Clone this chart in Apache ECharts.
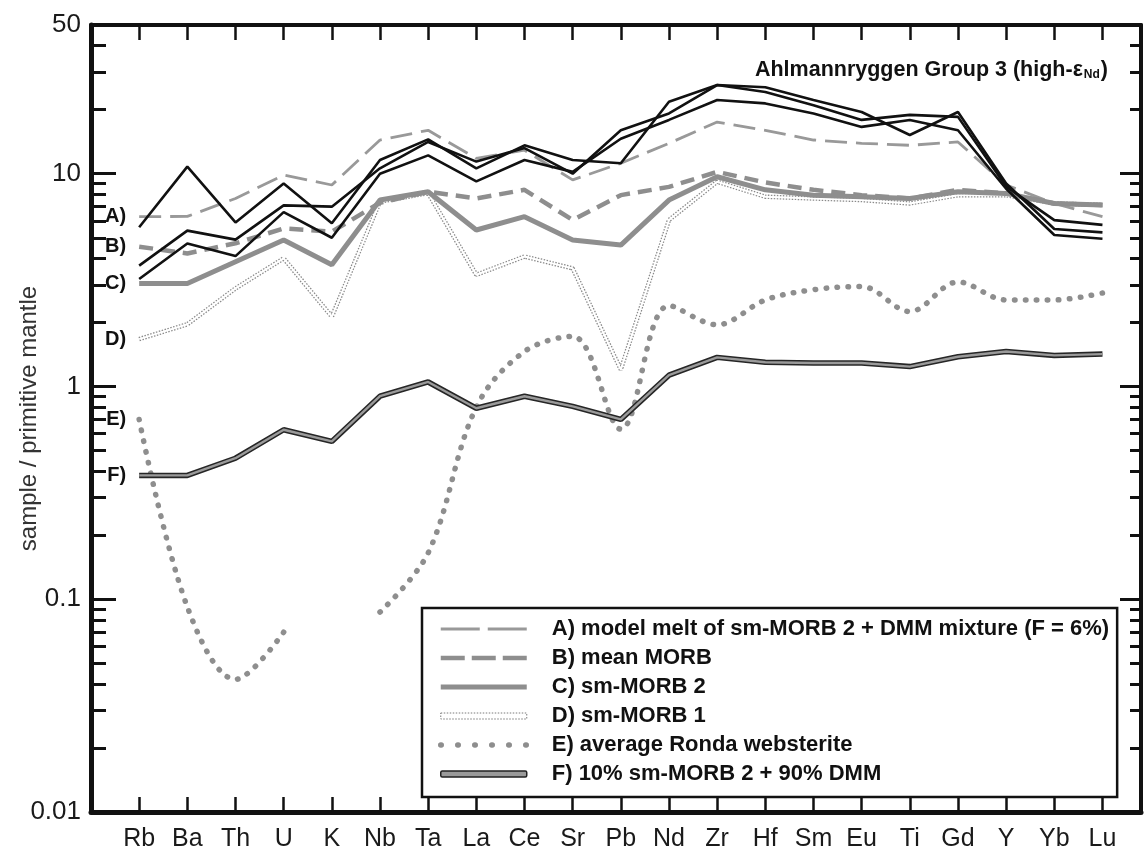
<!DOCTYPE html>
<html><head><meta charset="utf-8">
<script src="https://cdn.jsdelivr.net/npm/echarts@6/dist/echarts.min.js"></script>
<style>html,body{margin:0;padding:0;background:#fff}#c{width:1144px;height:856px}</style>
</head><body><div id="c"></div>
<script>
const FONT = "'Liberation Sans', Arial, Helvetica, sans-serif";
const elements = ['Rb','Ba','Th','U','K','Nb','Ta','La','Ce','Sr','Pb','Nd','Zr','Hf','Sm','Eu','Ti','Gd','Y','Yb','Lu'];

// three Ahlmannryggen Group 3 samples (black lines)
const sample1 = [5.6, 10.8, 5.9, 9.0, 5.85, 11.6, 14.5, 10.6, 13.6, 11.6, 11.2, 21.8, 26.1, 25.5, 22.2, 19.5, 15.2, 19.5, 9.0, 5.5, 5.3];
const sample2 = [3.7, 5.4, 4.9, 7.1, 7.0, 10.6, 14.1, 11.4, 13.2, 10.0, 16.0, 19.2, 26.1, 24.2, 21.0, 17.9, 18.9, 18.5, 8.7, 6.05, 5.75];
const sample3 = [3.2, 4.7, 4.1, 6.6, 5.0, 10.0, 12.2, 9.2, 11.6, 10.2, 14.6, 17.9, 22.2, 21.4, 19.2, 16.6, 17.9, 16.0, 8.5, 5.15, 4.95];

// reference compositions
const modelMelt   = [6.28, 6.3, 7.65, 9.86, 8.85, 14.4, 16.0, 11.8, 12.9, 9.35, 11.2, 13.9, 17.5, 16.0, 14.4, 13.9, 13.6, 14.1, 8.85, 7.25, 6.28];
const meanMORB    = [4.54, 4.22, 4.71, 5.53, 5.34, 7.3, 8.23, 7.65, 8.4, 6.06, 7.93, 8.67, 10.2, 9.1, 8.4, 7.93, 7.65, 8.4, 8.08, 7.25, 7.13];
const smMORB2     = [3.05, 3.05, 3.86, 4.88, 3.73, 7.52, 8.23, 5.44, 6.28, 4.88, 4.62, 7.52, 9.68, 8.4, 7.93, 7.8, 7.65, 8.23, 8.08, 7.25, 7.13];
const smMORB1     = [1.67, 1.96, 2.89, 4.0, 2.13, 7.4, 8.1, 3.35, 4.08, 3.59, 1.2, 6.06, 9.17, 7.8, 7.65, 7.52, 7.25, 7.93, 7.93, 7.25, 7.13];
const ronda       = [0.70, 0.092, 0.042, 0.070, null, 0.087, 0.165, 0.80, 1.46, 1.72, 0.63, 2.4, 1.95, 2.55, 2.85, 2.95, 2.25, 3.1, 2.55, 2.55, 2.75];
const mix10       = [0.382, 0.382, 0.46, 0.626, 0.552, 0.90, 1.05, 0.79, 0.90, 0.806, 0.70, 1.13, 1.37, 1.30, 1.29, 1.29, 1.24, 1.38, 1.46, 1.40, 1.42];

const legendNames = [
  'A) model melt of sm-MORB 2 + DMM mixture (F = 6%)',
  'B) mean MORB',
  'C) sm-MORB 2',
  'D) sm-MORB 1',
  'E) average Ronda websterite',
  'F) 10% sm-MORB 2 + 90% DMM'
];
const shortLabels = ['A)', 'B)', 'C)', 'D)', 'E)', 'F)'];

const yMajorTicks = [0.01, 0.1, 1, 10];
const yLabelValues = [0.01, 0.1, 1, 10, 50];
const yMinorTicks = [0.02,0.03,0.04,0.05,0.06,0.07,0.08,0.09,0.2,0.3,0.4,0.5,0.6,0.7,0.8,0.9,2,3,4,5,6,7,8,9,20,30,40];

const GREY = '#8e8e8e';
const NOFILL = { color: 'rgba(0,0,0,0)', borderWidth: 0 };

function pts(arr) { return arr.map((v, i) => [i, v == null ? '-' : v]); }
function labelled(arr, text) {
  const d = pts(arr);
  d[0] = {
    value: d[0], symbol: 'circle', symbolSize: 2,
    itemStyle: { color: 'rgba(0,0,0,0)' },
    label: { show: true, position: 'left', distance: 12, formatter: text,
             fontSize: 20, fontWeight: 'bold', color: '#111', fontFamily: FONT }
  };
  return d;
}
function line(name, data, lineStyle, extra) {
  return Object.assign({
    type: 'line', name, data, xAxisIndex: 0, yAxisIndex: 0,
    symbol: 'none', showSymbol: true, lineStyle, silent: true,
    itemStyle: { color: lineStyle.color }, connectNulls: false
  }, extra || {});
}

const series = [
  line(legendNames[3], labelled(smMORB1, shortLabels[3]), { width: 4.5, color: '#8a8a8a', type: [1.5, 1.5] }),
  line('D-inner', pts(smMORB1), { width: 2, color: '#ffffff' }),
  line(legendNames[0], labelled(modelMelt, shortLabels[0]), { width: 2.8, color: '#999999', type: [22, 9] }),
  line(legendNames[1], labelled(meanMORB, shortLabels[1]), { width: 4.5, color: GREY, type: [14, 8] }),
  line(legendNames[2], labelled(smMORB2, shortLabels[2]), { width: 5, color: GREY }),
  line(legendNames[4], labelled(ronda, shortLabels[4]), { width: 5.5, color: GREY, type: [0.5, 10.5], cap: 'round' }, { smooth: 0.35 }),
  line(legendNames[5], labelled(mix10, shortLabels[5]), { width: 5.5, color: '#262626' }),
  line('F-inner', pts(mix10), { width: 2.4, color: '#9a9a9a' }),
  line('sample1', pts(sample1), { width: 2.6, color: '#111111' }),
  line('sample2', pts(sample2), { width: 2.6, color: '#111111' }),
  line('sample3', pts(sample3), { width: 2.6, color: '#111111' })
];

const logAxisBase = { type: 'log', logBase: 10, min: 0.01, max: 50, splitLine: { show: false }, axisLabel: { show: false } };

const option = {
  animation: false,
  backgroundColor: '#ffffff',
  grid: { left: 91, right: 2, top: 25, bottom: 44 },
  title: {
    text: '{b|Ahlmannryggen Group 3 (high-ε}{s|Nd}{b|)}',
    right: 31, top: 54,
    textStyle: { rich: {
      b: { fontSize: 21.5, fontWeight: 'bold', color: '#111', fontFamily: FONT },
      s: { fontSize: 12, fontWeight: 'bold', color: '#111', fontFamily: FONT, verticalAlign: 'bottom', padding: [0, 1, 0, 1] }
    } }
  },
  legend: {
    orient: 'vertical', left: 422, top: 608,
    padding: [10, 8, 12, 16],
    backgroundColor: '#ffffff', borderColor: '#111', borderWidth: 2.5,
    itemWidth: 86, itemHeight: 6, itemGap: 7, selectedMode: false,
    formatter: n => '{sp| }{t|' + n + '}',
    textStyle: { rich: {
      sp: { width: 20 },
      t: { fontSize: 22, fontWeight: 'bold', color: '#111', fontFamily: FONT, width: 562 }
    } },
    data: [
      { name: legendNames[0], itemStyle: NOFILL, lineStyle: { width: 2.8, color: '#999999', type: [39, 8] } },
      { name: legendNames[1], itemStyle: NOFILL, lineStyle: { width: 4.5, color: GREY, type: [24, 7] } },
      { name: legendNames[2], itemStyle: NOFILL, lineStyle: { width: 5, color: GREY, type: 'solid' } },
      { name: legendNames[3], icon: 'rect', itemStyle: { color: '#ffffff', borderColor: '#7a7a7a', borderWidth: 1, borderType: [1.5, 1.5] } },
      { name: legendNames[4], itemStyle: NOFILL, lineStyle: { width: 5.5, color: GREY, type: [0.5, 16.5], cap: 'round' } },
      { name: legendNames[5], icon: 'roundRect', itemStyle: { color: '#9a9a9a', borderColor: '#222', borderWidth: 1.5 } }
    ]
  },
  xAxis: [
    {
      type: 'value', position: 'bottom', min: -1, max: 20.8, interval: 1,
      splitLine: { show: false },
      axisLine: { show: true, onZero: false, lineStyle: { color: '#111', width: 5 } },
      axisTick: { show: true, inside: true, length: 15, lineStyle: { color: '#111', width: 2.5 } },
      axisLabel: {
        show: true, margin: 15, fontSize: 25, color: '#1a1a1a', fontFamily: FONT,
        formatter: v => (Number.isInteger(v) && v >= 0 && v < elements.length) ? elements[v] : ''
      }
    },
    {
      type: 'value', position: 'top', min: -1, max: 20.8, interval: 1,
      splitLine: { show: false },
      axisLine: { show: true, onZero: false, lineStyle: { color: '#111', width: 4 } },
      axisTick: { show: true, inside: true, length: 15, lineStyle: { color: '#111', width: 2.5 } },
      axisLabel: { show: false }
    }
  ],
  yAxis: [
    Object.assign({}, logAxisBase, {
      position: 'left',
      name: 'sample / primitive mantle', nameLocation: 'middle', nameGap: 50, nameMoveOverlap: false,
      nameTextStyle: { fontSize: 24, color: '#333', fontFamily: FONT },
      axisLine: { show: true, onZero: false, lineStyle: { color: '#111', width: 5 } },
      axisTick: { show: true, inside: true, length: 25, customValues: yMajorTicks, lineStyle: { color: '#111', width: 3 } },
      axisLabel: { show: true, margin: 10, fontSize: 26, color: '#1a1a1a', fontFamily: FONT,
                   customValues: yLabelValues, formatter: v => String(+v.toPrecision(3)) }
    }),
    Object.assign({}, logAxisBase, {
      position: 'left',
      axisLine: { show: false, onZero: false },
      axisTick: { show: true, inside: true, length: 15, customValues: yMinorTicks, lineStyle: { color: '#111', width: 3 } }
    }),
    Object.assign({}, logAxisBase, {
      position: 'right',
      axisLine: { show: true, onZero: false, lineStyle: { color: '#111', width: 4 } },
      axisTick: { show: true, inside: true, length: 21, customValues: yMajorTicks, lineStyle: { color: '#111', width: 3 } }
    }),
    Object.assign({}, logAxisBase, {
      position: 'right',
      axisLine: { show: false, onZero: false },
      axisTick: { show: true, inside: true, length: 11, customValues: yMinorTicks, lineStyle: { color: '#111', width: 3 } }
    })
  ],
  series
};

const chart = echarts.init(document.getElementById('c'), null, { renderer: 'canvas' });
chart.setOption(option);
</script>
</body></html>
